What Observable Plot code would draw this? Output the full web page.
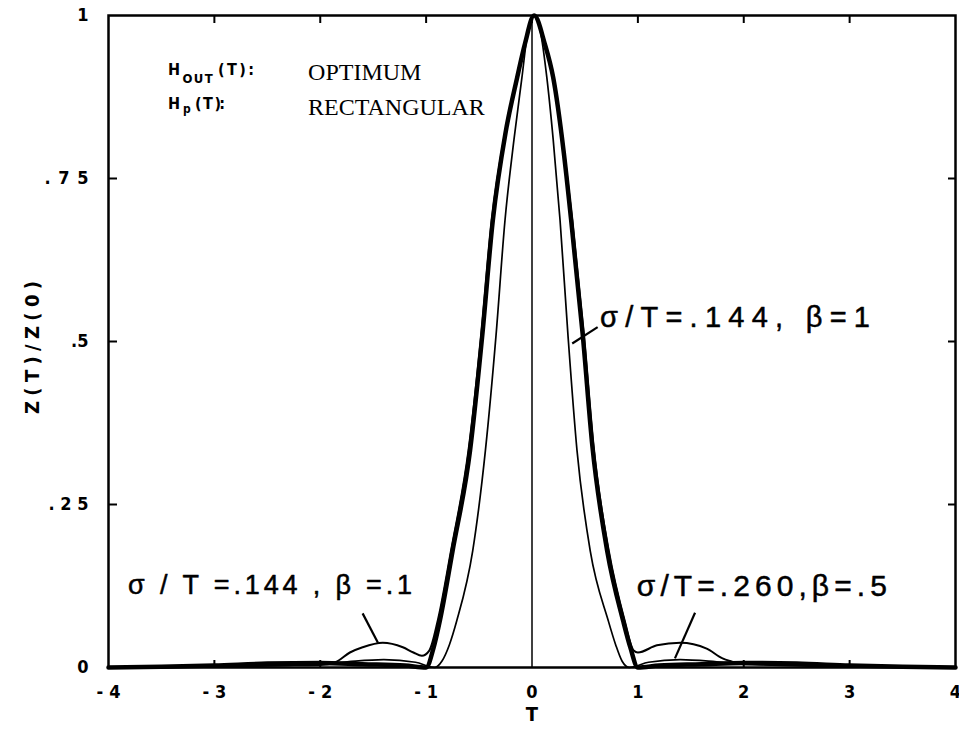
<!DOCTYPE html>
<html>
<head>
<meta charset="utf-8">
<script src="https://cdn.jsdelivr.net/npm/d3@7"></script>
<script src="https://cdn.jsdelivr.net/npm/@observablehq/plot@0.6"></script>
<style>
  html, body { margin: 0; padding: 0; background: #fff; }
  svg { display: block; }
</style>
</head>
<body>
<div id="chart"></div>
<script>
// ---- Tick values and labels ----
const xTicks = [-4, -3, -2, -1, 0, 1, 2, 3, 4];
const xTickLabels = ["-4", "-3", "-2", "-1", "0", "1", "2", "3", "4"];
const yTicks = [0, 0.25, 0.5, 0.75, 1];
const yTickLabels = ["0", ".25", ".5", ".75", "1"];
const xInnerTicks = [-3, -2, -1, 0, 1, 2, 3];
const yInnerTicks = [0.25, 0.5, 0.75];

// ---- Series: sigma/T = .144, beta = 1 (heavy curve) ----
const tA = [-4, -3.5, -3, -2.5, -2, -1.6, -1.2, -1.0, -0.93, -0.87, -0.75, -0.585, -0.47, -0.37, -0.25, -0.14, -0.066, 0.02, 0.12, 0.2, 0.3, 0.37, 0.48, 0.57, 0.71, 0.86, 0.93, 1.0, 1.2, 1.6, 2.0, 2.5, 3.0, 3.5, 4];
const vA = [0, 0.001, 0.003, 0.006, 0.007, 0.005, 0.003, 0.0, 0.03, 0.072, 0.179, 0.333, 0.509, 0.686, 0.82, 0.905, 0.957, 1.0, 0.957, 0.905, 0.79, 0.686, 0.509, 0.34, 0.179, 0.072, 0.03, 0.0, 0.003, 0.005, 0.007, 0.006, 0.003, 0.001, 0];

// ---- Series: sigma/T = .144, beta = .1 (side lobes at +-1.4) ----
const tB = [-4, -3, -2.5, -2.0, -1.86, -1.72, -1.6, -1.41, -1.22, -1.12, -1.04, -0.97, -0.89, -0.765, -0.6, -0.48, -0.38, -0.255, -0.145, -0.068, 0.02, 0.125, 0.205, 0.305, 0.38, 0.49, 0.58, 0.725, 0.875, 0.96, 1.0, 1.18, 1.4, 1.65, 1.8, 1.87, 2.0, 2.5, 3, 4];
const vB = [0, 0.001, 0.003, 0.004, 0.008, 0.023, 0.031, 0.038, 0.031, 0.023, 0.018, 0.026, 0.072, 0.179, 0.333, 0.509, 0.686, 0.82, 0.905, 0.957, 1.0, 0.957, 0.905, 0.79, 0.686, 0.509, 0.34, 0.179, 0.072, 0.026, 0.023, 0.034, 0.038, 0.029, 0.014, 0.01, 0.005, 0.004, 0.002, 0];

// ---- Series: sigma/T = .260, beta = .5 (narrow inner curve) ----
const tC = [-4, -3, -2.2, -1.8, -1.4, -1.1, -0.92, -0.85, -0.78, -0.71, -0.56, -0.44, -0.34, -0.255, -0.17, -0.095, -0.04, 0.02, 0.08, 0.14, 0.2, 0.265, 0.34, 0.425, 0.55, 0.72, 0.79, 0.85, 0.92, 1.1, 1.4, 1.8, 2.2, 3, 4];
const vC = [0, 0.001, 0.004, 0.008, 0.012, 0.008, 0.0, 0.01, 0.035, 0.072, 0.179, 0.333, 0.509, 0.686, 0.81, 0.905, 0.975, 1.0, 0.975, 0.905, 0.81, 0.686, 0.509, 0.333, 0.179, 0.072, 0.035, 0.01, 0.0, 0.008, 0.012, 0.008, 0.004, 0.001, 0];

// ---- Curve labels and their leader lines ----
const labelText = ["σ/T=.144, β=1", "σ / T =.144 , β =.1", "σ/T=.260,β=.5"];
const labelT = [0.642, -3.815, 0.99];
const labelV = [0.537, 0.126, 0.124];
const labelSize = [29, 27, 30];
const leaderT1 = [0.62, -1.60, 1.54];
const leaderV1 = [0.522, 0.083, 0.084];
const leaderT2 = [0.38, -1.455, 1.35];
const leaderV2 = [0.497, 0.038, 0.014];

const series = [
  ...tA.map((t, i) => ({s: "A", t, v: vA[i]})),
  ...tB.map((t, i) => ({s: "B", t, v: vB[i]})),
  ...tC.map((t, i) => ({s: "C", t, v: vC[i]}))
];
const labels = labelText.map((text, i) => ({text, t: labelT[i], v: labelV[i], size: labelSize[i]}));
const leaders = leaderT1.map((t1, i) => ({t1, v1: leaderV1[i], t2: leaderT2[i], v2: leaderV2[i]}));

const condensed = "'DejaVu Sans Condensed', 'Liberation Sans Narrow', 'Roboto Condensed', 'DejaVu Sans', sans-serif";
const lettering = "'Liberation Sans', Arial, sans-serif";
const serif = "'Liberation Serif', 'DejaVu Serif', serif";

const fmtX = d => xTickLabels[xTicks.indexOf(d)];
const fmtY = d => yTickLabels[yTicks.indexOf(d)];

const chart = Plot.plot({
  width: 959,
  height: 732,
  marginLeft: 108,
  marginRight: 4,
  marginTop: 15,
  marginBottom: 65,
  x: {domain: [-4, 4]},
  y: {domain: [0, 1]},
  style: {background: "#fff", color: "#000"},
  marks: [
    Plot.ruleX([0], {stroke: "#000", strokeWidth: 1.5}),
    Plot.line(series.filter(d => d.s === "C"), {x: "t", y: "v", curve: "monotone-x", stroke: "#000", strokeWidth: 1.7}),
    Plot.line(series.filter(d => d.s === "B"), {x: "t", y: "v", curve: "monotone-x", stroke: "#000", strokeWidth: 2}),
    Plot.line(series.filter(d => d.s === "A"), {x: "t", y: "v", curve: "monotone-x", stroke: "#000", strokeWidth: 4.5}),
    Plot.link(leaders, {x1: "t1", y1: "v1", x2: "t2", y2: "v2", stroke: "#000", strokeWidth: 2.2}),
    Plot.text(labels, {x: "t", y: "v", text: "text", textAnchor: "start", fontSize: d => d.size, fontFamily: lettering, fill: "#000", stroke: "#000", strokeWidth: 0.5}),
    // top-left notes
    Plot.text(["H"], {x: -3.437, y: 0.916, textAnchor: "start", fontSize: 16, fontWeight: "bold", fontFamily: condensed}),
    Plot.text(["OUT"], {x: -3.30, y: 0.903, textAnchor: "start", fontSize: 13, fontWeight: "bold", fontFamily: condensed}),
    Plot.text(["(T):"], {x: -2.965, y: 0.916, textAnchor: "start", fontSize: 16, fontWeight: "bold", fontFamily: condensed}),
    Plot.text(["OPTIMUM"], {x: -2.115, y: 0.913, textAnchor: "start", fontSize: 24, fontFamily: serif}),
    Plot.text(["H"], {x: -3.437, y: 0.865, textAnchor: "start", fontSize: 16, fontWeight: "bold", fontFamily: condensed}),
    Plot.text(["p"], {x: -3.296, y: 0.857, textAnchor: "start", fontSize: 12, fontWeight: "bold", fontFamily: condensed}),
    Plot.text(["( T ):"], {x: -3.183, y: 0.865, textAnchor: "start", fontSize: 16, fontWeight: "bold", fontFamily: condensed}),
    Plot.text(["RECTANGULAR"], {x: -2.115, y: 0.859, textAnchor: "start", fontSize: 24, fontFamily: serif}),
    // axes: labels
    Plot.axisX({ticks: xTicks, tickFormat: fmtX, tickSize: 0, tickPadding: 18, fontSize: 18, fontWeight: "bold", fontFamily: condensed, label: null}),
    Plot.axisY({ticks: yTicks, tickFormat: fmtY, tickSize: 0, tickPadding: 20, fontSize: 18, fontWeight: "bold", fontFamily: condensed, label: null}),
    // inward ticks
    Plot.axisX({anchor: "top", ticks: xInnerTicks, tickSize: -7, tickFormat: () => "", strokeWidth: 2, label: null}),
    Plot.axisX({anchor: "bottom", ticks: [-3, -2, 2, 3], tickSize: -7, tickFormat: () => "", strokeWidth: 2, label: null}),
    Plot.axisY({anchor: "left", ticks: yInnerTicks, tickSize: -9, tickFormat: () => "", strokeWidth: 2, label: null}),
    Plot.axisY({anchor: "right", ticks: yInnerTicks, tickSize: -8, tickFormat: () => "", strokeWidth: 2, label: null}),
    // axis titles
    Plot.text(["Z(T)/Z(0)"], {frameAnchor: "left", textAnchor: "middle", rotate: -90, dx: -76, dy: 6, fontSize: 20, fontWeight: "bold", fontFamily: condensed}),
    Plot.text(["T"], {frameAnchor: "bottom", dy: 53, fontSize: 20, fontWeight: "bold", fontFamily: condensed}),
    Plot.frame({stroke: "#000", strokeWidth: 2.5})
  ]
});

document.getElementById("chart").appendChild(chart);

// stretch hand-lettered texts to their drawn widths (by content)
const fits = {
  "σ/T=.144, β=1": 270,
  "σ / T =.144 , β =.1": 284,
  "σ/T=.260,β=.5": 250,
  "Z(T)/Z(0)": 133,
  "OUT": 30,
  "(T):": 36,
  "( T ):": 30,
  ".75": 44,
  ".25": 40,
  "-4": 24, "-3": 24, "-2": 24, "-1": 24
};
chart.querySelectorAll("text").forEach(el => {
  const w = fits[el.textContent];
  if (w) {
    el.setAttribute("textLength", w);
    el.setAttribute("lengthAdjust", "spacing");
  }
});
</script>
</body>
</html>
